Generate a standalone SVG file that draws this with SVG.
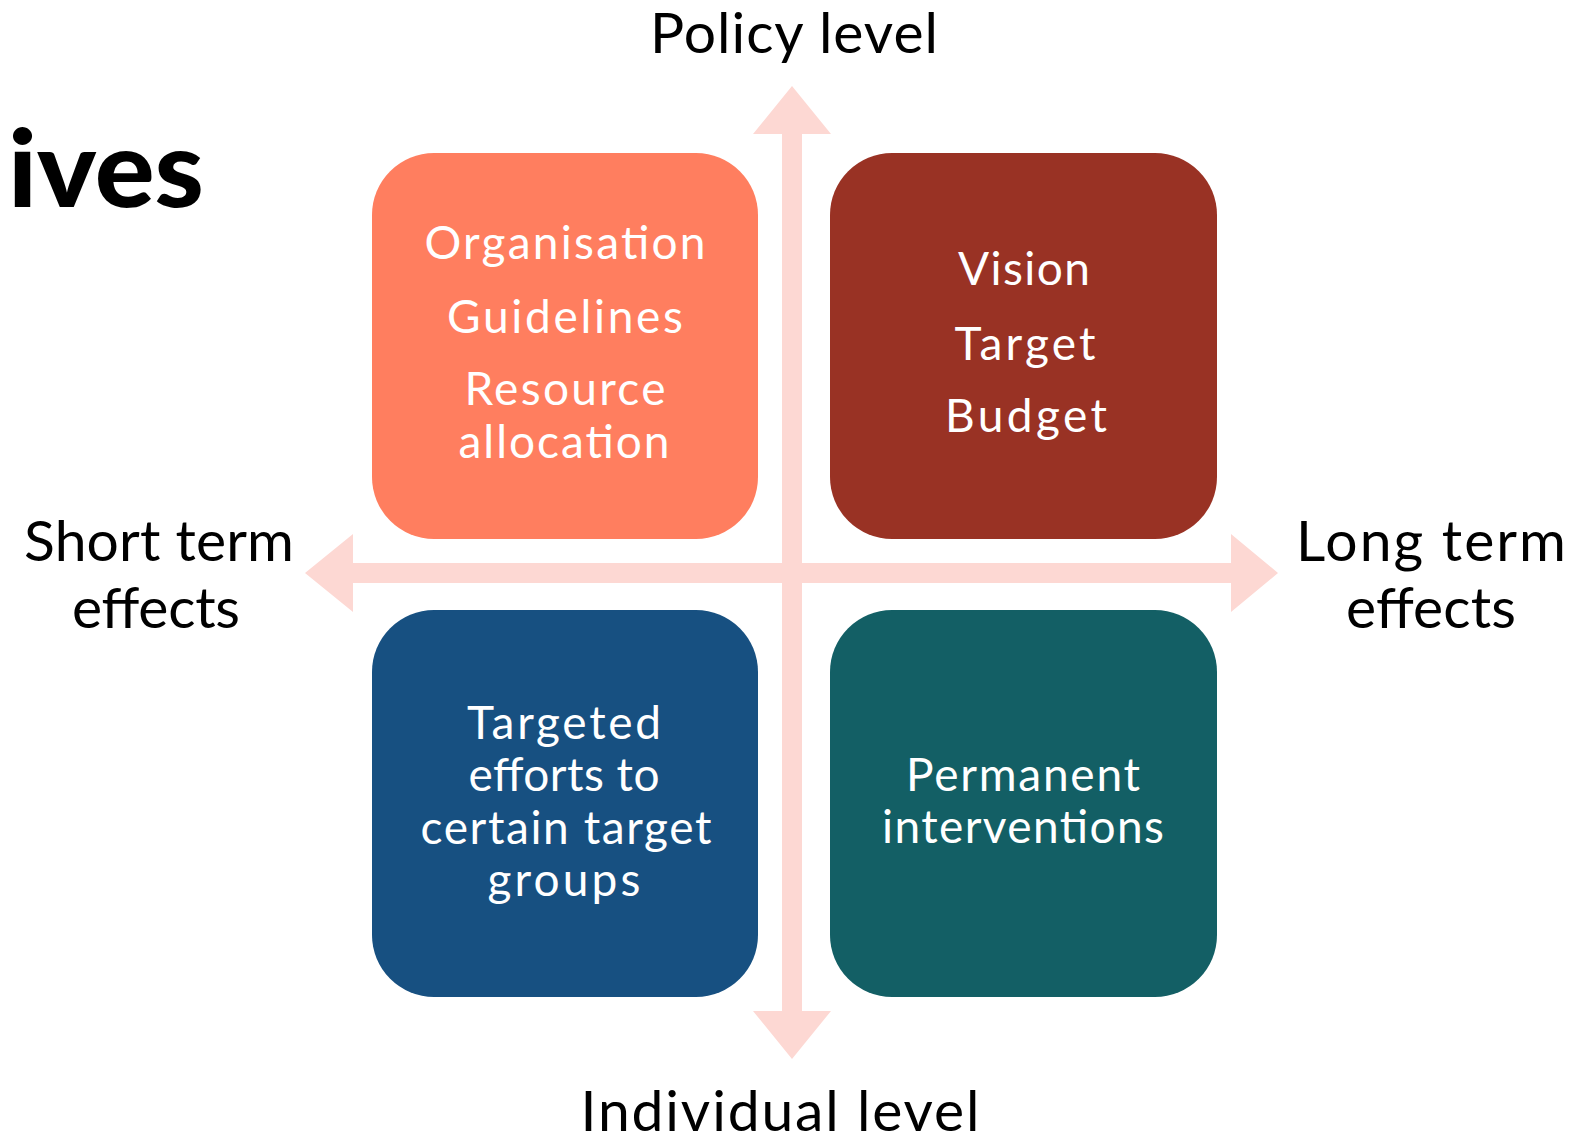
<svg xmlns="http://www.w3.org/2000/svg" width="1596" height="1142" viewBox="0 0 1596 1142">
<style>
.lbl{font-family:Lato,"Open Sans","DejaVu Sans",sans-serif;font-size:57px;fill:#000;text-anchor:middle}
.bt{font-family:Lato,"Open Sans","DejaVu Sans",sans-serif;font-size:46px;fill:#fff;text-anchor:middle}
.ttl{font-family:Lato,"DejaVu Sans",sans-serif;font-weight:900;font-size:106px;fill:#000}
.arr{fill:#FDD8D3}
</style>
<rect width="1596" height="1142" fill="#fff"/>
<text class="ttl" x="8" y="207" textLength="196" lengthAdjust="spacingAndGlyphs">ives</text>
<g id="connectors">
<polygon class="arr" points="305,573 353,534 353,563 1231,563 1231,534 1278,573 1231,612 1231,583 353,583 353,612"/>
<polygon class="arr" points="792,86 831,134 802,134 802,1011 831,1011 792,1059 753,1011 782,1011 782,134 753,134"/>
</g>
<g id="label-policy"><text class="lbl" x="794" y="53" textLength="288" lengthAdjust="spacing">Policy level</text></g>
<g id="label-individual"><text class="lbl" x="780" y="1131" textLength="399" lengthAdjust="spacing">Individual level</text></g>
<g id="label-short"><text class="lbl" x="159" y="561" textLength="270" lengthAdjust="spacing">Short term</text><text class="lbl" x="156" y="628" textLength="168" lengthAdjust="spacing">effects</text></g>
<g id="label-long"><text class="lbl" x="1431" y="561" textLength="270" lengthAdjust="spacing">Long term</text><text class="lbl" x="1431" y="628" textLength="170" lengthAdjust="spacing">effects</text></g>
<g id="node-orange">
<rect x="372" y="153" width="386" height="386" rx="62" fill="#FF7E5F"/>
<text class="bt" x="565" y="259" textLength="281" lengthAdjust="spacing">Organisation</text>
<text class="bt" x="565" y="333" textLength="236" lengthAdjust="spacing">Guidelines</text>
<text class="bt" x="565" y="405" textLength="201" lengthAdjust="spacing">Resource</text>
<text class="bt" x="564" y="458" textLength="211" lengthAdjust="spacing">allocation</text>
</g>
<g id="node-red">
<rect x="830" y="153" width="387" height="386" rx="62" fill="#993224"/>
<text class="bt" x="1024" y="285" textLength="132" lengthAdjust="spacing">Vision</text>
<text class="bt" x="1025" y="360" textLength="141" lengthAdjust="spacing">Target</text>
<text class="bt" x="1026" y="432" textLength="162" lengthAdjust="spacing">Budget</text>
</g>
<g id="node-blue">
<rect x="372" y="610" width="386" height="387" rx="62" fill="#175081"/>
<text class="bt" x="564" y="739" textLength="194" lengthAdjust="spacing">Targeted</text>
<text class="bt" x="564" y="791" textLength="191" lengthAdjust="spacing">efforts to</text>
<text class="bt" x="566" y="844" textLength="291" lengthAdjust="spacing">certain target</text>
<text class="bt" x="564" y="896" textLength="153" lengthAdjust="spacing">groups</text>
</g>
<g id="node-teal">
<rect x="830" y="610" width="387" height="387" rx="62" fill="#135F65"/>
<text class="bt" x="1023" y="791" textLength="234" lengthAdjust="spacing">Permanent</text>
<text class="bt" x="1023" y="843" textLength="282" lengthAdjust="spacing">interventions</text>
</g>
</svg>
